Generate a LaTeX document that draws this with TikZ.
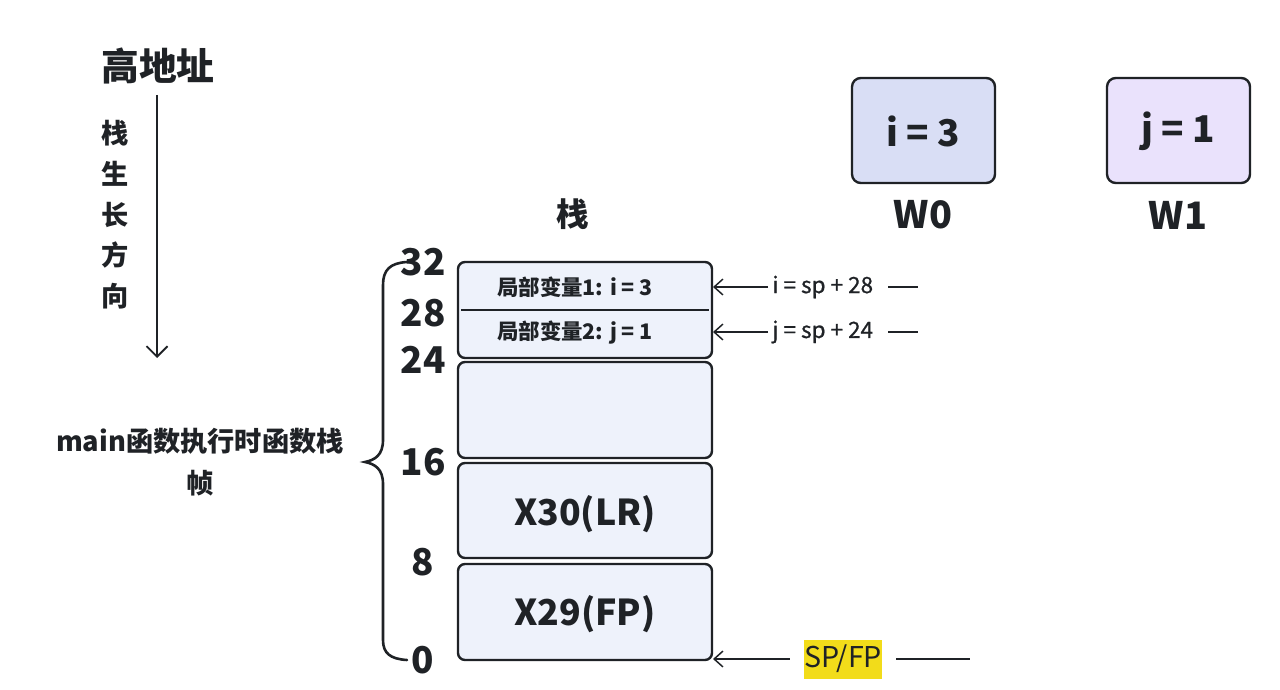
\documentclass[tikz,border=0pt]{standalone}
\usepackage{fontspec}
\setmainfont{Noto Sans CJK SC}
\newfontfamily\medfont{Noto Sans CJK SC}[FakeBold=0.8]
\usetikzlibrary{arrows.meta}
\definecolor{ink}{HTML}{1F2226}
\definecolor{cellfill}{HTML}{EEF2FB}
\definecolor{wzero}{HTML}{D9DEF5}
\definecolor{wone}{HTML}{EAE2FC}
\definecolor{hl}{HTML}{F2DC1A}
\tikzset{
  cell/.style={draw=ink, line width=2.4pt*0.567, rounded corners=4pt, fill=cellfill},
  reg/.style={draw=ink, line width=2.4pt*0.567, rounded corners=5pt},
  num/.style={font=\fontsize{21}{21}\selectfont\bfseries, text=ink, inner sep=0pt},
  big/.style={font=\fontsize{20.3}{21}\selectfont\bfseries, text=ink, inner sep=0pt},
  small/.style={font=\fontsize{12.2}{13}\selectfont\bfseries, text=ink, inner sep=0pt},
  tiny/.style={font=\fontsize{12.8}{13}\medfont, text=ink, inner sep=0pt},
  side/.style={font=\fontsize{15.5}{16}\selectfont\bfseries, text=ink, inner sep=0pt},
  ptr/.style={draw=ink, line width=1.5pt*0.567, -{Straight Barb[length=5pt,width=9pt]}},
  tail/.style={draw=ink, line width=1.8pt*0.567},
}
\begin{document}
\begin{tikzpicture}[x=0.02cm,y=-0.02cm]
\useasboundingbox (0,0) rectangle (1280,689);
% left titles
\node[big, font=\fontsize{21.5}{22}\selectfont\bfseries] (high) at (158,66) {高地址};
\coordinate (ga) at (157,95);
\coordinate (gb) at (157,358);
\draw[ptr, line width=1.8pt*0.567, -{Straight Barb[length=6pt,width=12pt]}] (ga) -- (gb);
\node[side] (g1) at (115,133) {栈};
\node[side] (g2) at (115,174) {生};
\node[side] (g3) at (115,215) {长};
\node[side] (g4) at (115,255) {方};
\node[side] (g5) at (115,296) {向};
\node[side, align=center, font=\fontsize{15.5}{24}\selectfont\bfseries] (frame) at (200,462) {main函数执行时函数栈\\帧};
% brace
\draw[ink, line width=2.6pt*0.567, line cap=round]
  (407,262) .. controls (390,263) and (383,270) .. (383,285)
  -- (383,440) .. controls (383,455) and (375,460) .. (365,462)
  .. controls (375,464) and (383,469) .. (383,484)
  -- (383,640) .. controls (383,653) and (390,659) .. (407,660);
% offsets
\node[num] (n32) at (423,262) {32};
\node[num] (n28) at (423,313) {28};
\node[num] (n24) at (423,360) {24};
\node[num] (n16) at (423,462) {16};
\node[num] (n8) at (423,562) {8};
\node[num] (n0) at (423,660) {0};
% stack
\node[big, font=\fontsize{18.5}{19}\selectfont\bfseries] (stk) at (573,214) {栈};
\draw[cell] (458,262) rectangle (712,358);
\draw[ink, line width=2pt*0.567] (461,310) -- (709,310);
\node[small] (v1) at (575,287) {局部变量1: i = 3};
\node[small] (v2) at (575,333) {局部变量2: j = 1};
\draw[cell] (458,362) rectangle (712,458);
\draw[cell] (458,463) rectangle (712,558);
\node[big] (lr) at (585,514) {X30(LR)};
\draw[cell] (458,564) rectangle (712,660);
\node[big] (fp) at (585,614) {X29(FP)};
% pointers
\coordinate (p1) at (713,287);
\coordinate (p2) at (713,332);
\coordinate (p3) at (713,659);
\node[tiny, anchor=west] (a1) at (772,287) {i = sp + 28};
\node[tiny, anchor=west] (a2) at (772,332) {j = sp + 24};
\draw[ptr] (a1.west) ++(-4,0) coordinate (a1s) (a1s) -- (p1);
\draw[ptr] (a2.west) ++(-4,0) coordinate (a2s) (a2s) -- (p2);
\coordinate (t1a) at (888,287); \coordinate (t1b) at (918,287);
\coordinate (t2a) at (888,332); \coordinate (t2b) at (918,332);
\draw[tail] (t1a) -- (t1b);
\draw[tail] (t2a) -- (t2b);
\node[fill=hl, font=\fontsize{16.3}{17}\selectfont, text=ink, minimum width=78*0.02cm, minimum height=39*0.02cm, inner sep=0pt] (spfp) at (843,659) {SP/FP};
\draw[ptr] ([xshift=-14*0.02cm]spfp.west) -- (p3);
\coordinate (t3a) at (896,659); \coordinate (t3b) at (970,659);
\draw[tail] (t3a) -- (t3b);
% registers
\draw[reg, fill=wzero] (852,78) rectangle (995,183);
\node[num] (w0v) at (923,131) {i = 3};
\node[big, font=\fontsize{21.5}{22}\selectfont\bfseries] (w0) at (923,215) {W0};
\draw[reg, fill=wone] (1107,78) rectangle (1250,183);
\node[num] (w1v) at (1178,131) {j = 1};
\node[big, font=\fontsize{21.5}{22}\selectfont\bfseries] (w1) at (1178,215) {W1};
\end{tikzpicture}
\end{document}
